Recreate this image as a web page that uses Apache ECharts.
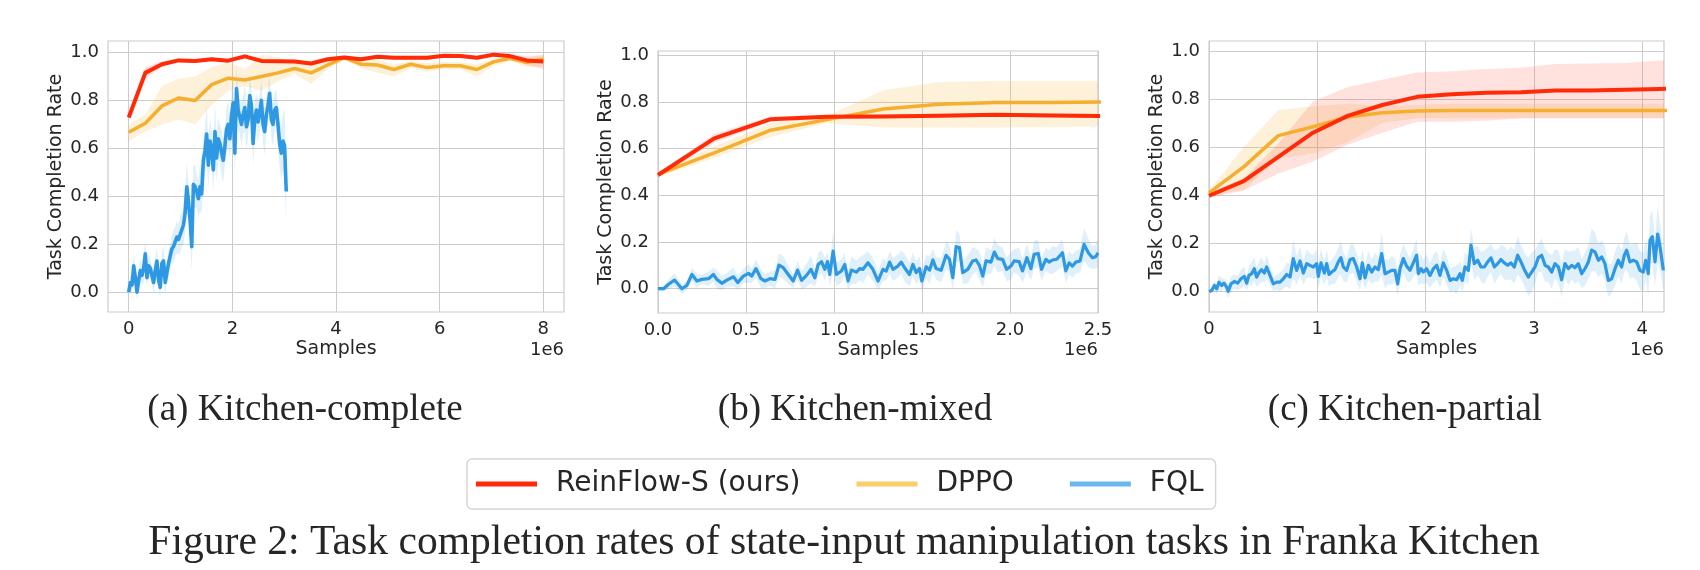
<!DOCTYPE html>
<html><head><meta charset="utf-8">
<script src="https://cdn.jsdelivr.net/npm/echarts@6/dist/echarts.min.js"></script>
<style>html,body{margin:0;padding:0;background:#fff}#c{width:1700px;height:570px}</style>
</head><body><div id="c"></div>
<script>
// ---------- Kitchen-complete ----------
const xA = [0,0.32,0.64,0.96,1.28,1.6,1.92,2.24,2.56,2.88,3.2,3.52,3.84,4.16,4.48,4.8,5.12,5.44,5.76,6.08,6.4,6.72,7.04,7.36,7.68,8.0];
const reinA = [0.729,0.915,0.951,0.967,0.965,0.972,0.966,0.984,0.965,0.964,0.962,0.954,0.972,0.979,0.972,0.982,0.978,0.978,0.978,0.986,0.985,0.978,0.991,0.985,0.967,0.962];
const reinA_lo = [0.72,0.89,0.94,0.96,0.958,0.965,0.96,0.977,0.958,0.957,0.955,0.947,0.965,0.972,0.965,0.975,0.971,0.971,0.971,0.979,0.978,0.971,0.984,0.978,0.95,0.93];
const reinA_hi = [0.74,0.94,0.962,0.975,0.972,0.979,0.973,0.991,0.972,0.971,0.969,0.961,0.979,0.986,0.979,0.989,0.985,0.985,0.985,0.993,0.992,0.985,0.998,0.992,0.984,0.99];
const dppoA = [0.667,0.705,0.777,0.81,0.80,0.866,0.893,0.885,0.90,0.915,0.933,0.915,0.948,0.979,0.951,0.948,0.929,0.951,0.937,0.945,0.945,0.929,0.961,0.976,0.958,0.972];
const dppoA_lo = [0.63,0.67,0.70,0.72,0.70,0.78,0.84,0.86,0.84,0.88,0.91,0.87,0.93,0.97,0.935,0.915,0.90,0.935,0.92,0.93,0.93,0.90,0.945,0.965,0.94,0.94];
const dppoA_hi = [0.70,0.74,0.86,0.89,0.90,0.94,0.96,0.93,0.99,0.98,0.955,0.95,0.965,0.99,0.965,0.97,0.95,0.965,0.955,0.96,0.96,0.95,0.975,0.985,0.975,0.99];
const fqlA_step = 0.032;
const fqlA = [
0.00,0.04,0.03,0.11,0.06,0.00,0.05,0.09,0.07,0.10,
0.16,0.06,0.11,0.10,0.07,0.04,0.09,0.13,0.05,0.02,
0.12,0.13,0.04,0.08,0.12,0.15,0.18,0.19,0.21,0.23,
0.22,0.24,0.26,0.28,0.33,0.44,0.38,0.30,0.19,0.45,
0.44,0.42,0.39,0.44,0.41,0.55,0.59,0.66,0.53,0.63,
0.60,0.51,0.67,0.56,0.64,0.62,0.58,0.55,0.61,0.68,
0.70,0.64,0.74,0.79,0.58,0.85,0.76,0.73,0.70,0.74,
0.77,0.69,0.72,0.82,0.78,0.62,0.72,0.76,0.71,0.75,
0.80,0.70,0.67,0.74,0.78,0.83,0.72,0.70,0.76,0.77,
0.70,0.62,0.58,0.63,0.61,0.42];
const fqlA_sd = [
0.01,0.03,0.04,0.05,0.04,0.03,0.04,0.05,0.04,0.06,
0.06,0.04,0.05,0.04,0.04,0.05,0.05,0.06,0.04,0.04,
0.05,0.06,0.05,0.04,0.06,0.05,0.06,0.07,0.06,0.07,
0.06,0.08,0.07,0.08,0.09,0.10,0.08,0.09,0.10,0.08,
0.09,0.07,0.08,0.10,0.08,0.09,0.10,0.12,0.09,0.10,
0.08,0.09,0.12,0.10,0.09,0.08,0.10,0.09,0.08,0.10,
0.09,0.08,0.10,0.09,0.10,0.09,0.08,0.07,0.09,0.08,
0.10,0.09,0.08,0.07,0.08,0.09,0.08,0.07,0.09,0.08,
0.09,0.08,0.10,0.07,0.08,0.07,0.08,0.09,0.08,0.07,
0.09,0.10,0.11,0.12,0.15,0.13];

// ---------- Kitchen-mixed ----------
const xB = [0,0.32,0.64,0.96,1.28,1.6,1.92,2.24,2.56];
const reinB = [0.487,0.644,0.726,0.736,0.738,0.741,0.745,0.742,0.739];
const reinB_lo = [0.48,0.625,0.715,0.728,0.73,0.733,0.737,0.734,0.731];
const reinB_hi = [0.494,0.663,0.737,0.744,0.746,0.749,0.753,0.75,0.747];
const dppoB = [0.49,0.582,0.679,0.724,0.77,0.79,0.797,0.797,0.80];
const dppoB_lo = [0.48,0.56,0.65,0.71,0.69,0.69,0.69,0.693,0.695];
const dppoB_hi = [0.50,0.61,0.71,0.74,0.85,0.885,0.89,0.89,0.89];
const fqlB_x = [
0.000,0.032,0.060,0.094,0.136,0.164,0.193,0.221,0.249,0.287,
0.315,0.334,0.363,0.391,0.429,0.453,0.485,0.514,0.532,0.557,
0.585,0.608,0.636,0.665,0.687,0.712,0.740,0.768,0.793,0.816,
0.844,0.869,0.891,0.910,0.929,0.948,0.963,0.976,0.995,1.014,
1.042,1.061,1.080,1.099,1.127,1.146,1.165,1.193,1.221,1.250,
1.278,1.297,1.316,1.335,1.363,1.382,1.401,1.429,1.448,1.467,
1.486,1.499,1.524,1.543,1.562,1.580,1.609,1.637,1.656,1.675,
1.694,1.713,1.731,1.760,1.788,1.807,1.826,1.845,1.864,1.892,
1.911,1.930,1.958,1.981,2.005,2.024,2.052,2.071,2.096,2.119,
2.137,2.160,2.179,2.204,2.222,2.241,2.266,2.298,2.317,2.336,
2.355,2.374,2.398,2.421,2.445,2.468,2.487,2.500];
const fqlB = [
0.000,0.000,0.019,0.037,0.000,0.014,0.061,0.033,0.040,0.043,
0.061,0.040,0.023,0.037,0.051,0.026,0.054,0.066,0.054,0.086,
0.043,0.033,0.043,0.040,0.101,0.090,0.061,0.033,0.080,0.036,
0.057,0.083,0.047,0.104,0.116,0.083,0.116,0.061,0.161,0.061,
0.076,0.104,0.033,0.080,0.071,0.086,0.083,0.111,0.083,0.033,
0.083,0.076,0.114,0.083,0.097,0.114,0.090,0.061,0.104,0.069,
0.087,0.033,0.094,0.080,0.123,0.087,0.079,0.143,0.126,0.047,
0.180,0.176,0.069,0.083,0.119,0.123,0.100,0.054,0.119,0.114,
0.157,0.129,0.126,0.083,0.097,0.119,0.116,0.076,0.133,0.086,
0.147,0.151,0.083,0.126,0.114,0.123,0.126,0.154,0.076,0.111,
0.097,0.114,0.119,0.190,0.154,0.133,0.137,0.154];
const fqlB_sd = [
0.005,0.01,0.02,0.03,0.02,0.02,0.03,0.03,0.02,0.03,
0.03,0.04,0.03,0.03,0.04,0.03,0.03,0.04,0.03,0.04,
0.04,0.03,0.03,0.04,0.05,0.05,0.04,0.03,0.04,0.04,
0.05,0.06,0.04,0.05,0.05,0.05,0.04,0.05,0.09,0.05,
0.05,0.05,0.04,0.06,0.05,0.05,0.06,0.05,0.05,0.04,
0.05,0.04,0.05,0.05,0.05,0.05,0.06,0.05,0.05,0.05,
0.05,0.05,0.05,0.06,0.05,0.05,0.05,0.06,0.06,0.05,
0.07,0.06,0.05,0.06,0.06,0.05,0.06,0.05,0.06,0.05,
0.06,0.06,0.05,0.05,0.06,0.05,0.06,0.05,0.06,0.05,
0.06,0.06,0.05,0.05,0.05,0.06,0.05,0.06,0.05,0.05,
0.05,0.05,0.05,0.07,0.06,0.05,0.05,0.06];

// ---------- Kitchen-partial ----------
const xC = [0,0.32,0.64,0.96,1.28,1.6,1.92,2.24,2.56,2.88,3.2,3.52,3.84,4.16,4.48];
const reinC = [0.398,0.459,0.56,0.66,0.73,0.775,0.809,0.82,0.826,0.828,0.835,0.835,0.838,0.842,0.844];
const reinC_lo = [0.39,0.42,0.49,0.54,0.61,0.66,0.705,0.705,0.71,0.72,0.72,0.72,0.72,0.72,0.72];
const reinC_hi = [0.41,0.47,0.615,0.79,0.85,0.88,0.91,0.915,0.925,0.93,0.945,0.948,0.95,0.96,0.96];
const dppoC = [0.41,0.518,0.648,0.685,0.725,0.743,0.75,0.752,0.752,0.752,0.752,0.752,0.752,0.752,0.752];
const dppoC_lo = [0.40,0.422,0.553,0.574,0.62,0.70,0.72,0.72,0.72,0.72,0.72,0.72,0.72,0.72,0.72];
const dppoC_hi = [0.42,0.60,0.754,0.77,0.78,0.77,0.775,0.78,0.78,0.78,0.78,0.78,0.78,0.78,0.78];
const fqlC_x = [
0.000,0.025,0.049,0.071,0.092,0.117,0.138,0.163,0.178,0.203,
0.234,0.265,0.295,0.326,0.348,0.369,0.394,0.418,0.440,0.465,
0.486,0.511,0.532,0.563,0.594,0.625,0.655,0.686,0.717,0.748,
0.778,0.809,0.840,0.871,0.902,0.932,0.963,0.994,1.009,1.034,
1.065,1.086,1.108,1.132,1.163,1.194,1.218,1.240,1.271,1.302,
1.332,1.363,1.394,1.415,1.440,1.471,1.502,1.532,1.563,1.594,
1.625,1.655,1.686,1.717,1.742,1.763,1.794,1.825,1.855,1.886,
1.917,1.932,1.957,1.978,2.009,2.040,2.071,2.102,2.132,2.163,
2.194,2.225,2.255,2.286,2.317,2.338,2.363,2.394,2.418,2.449,
2.480,2.511,2.542,2.572,2.603,2.634,2.665,2.695,2.726,2.757,
2.788,2.818,2.849,2.880,2.911,2.948,2.978,3.009,3.040,3.071,
3.102,3.132,3.163,3.194,3.225,3.255,3.286,3.317,3.348,3.378,
3.409,3.440,3.471,3.502,3.532,3.563,3.594,3.625,3.655,3.686,
3.717,3.748,3.778,3.809,3.834,3.855,3.886,3.917,3.948,3.978,
4.009,4.031,4.055,4.071,4.092,4.117,4.142,4.163,4.194];
const fqlC = [
0.000,0.004,0.025,0.011,0.039,0.025,0.035,0.018,0.001,0.032,
0.042,0.035,0.053,0.063,0.035,0.067,0.074,0.095,0.060,0.081,
0.091,0.077,0.102,0.067,0.032,0.039,0.039,0.053,0.071,0.060,
0.137,0.088,0.127,0.077,0.116,0.109,0.102,0.116,0.063,0.119,
0.077,0.116,0.071,0.081,0.091,0.123,0.141,0.102,0.088,0.133,
0.137,0.102,0.053,0.119,0.057,0.109,0.081,0.102,0.091,0.158,
0.074,0.081,0.088,0.088,0.032,0.095,0.137,0.105,0.088,0.119,
0.151,0.074,0.095,0.081,0.095,0.067,0.095,0.109,0.067,0.119,
0.088,0.046,0.053,0.049,0.074,0.046,0.102,0.088,0.193,0.116,
0.130,0.102,0.102,0.123,0.140,0.102,0.116,0.133,0.119,0.109,
0.119,0.102,0.151,0.123,0.091,0.060,0.081,0.102,0.141,0.151,
0.109,0.102,0.081,0.116,0.102,0.049,0.116,0.095,0.109,0.099,
0.116,0.074,0.095,0.123,0.172,0.165,0.130,0.144,0.116,0.046,
0.053,0.095,0.130,0.102,0.151,0.172,0.123,0.130,0.123,0.088,
0.081,0.130,0.074,0.214,0.228,0.123,0.239,0.186,0.088];
const fqlC_sd = [
0.005,0.01,0.02,0.02,0.03,0.03,0.02,0.03,0.03,0.03,
0.03,0.03,0.04,0.04,0.03,0.04,0.05,0.05,0.04,0.05,
0.05,0.04,0.05,0.04,0.03,0.03,0.04,0.04,0.05,0.05,
0.08,0.06,0.06,0.05,0.06,0.05,0.05,0.06,0.05,0.06,
0.05,0.06,0.05,0.05,0.06,0.06,0.07,0.06,0.05,0.06,
0.06,0.06,0.05,0.06,0.05,0.06,0.05,0.06,0.05,0.09,
0.06,0.05,0.06,0.05,0.05,0.06,0.06,0.06,0.05,0.06,
0.07,0.05,0.06,0.05,0.06,0.05,0.06,0.06,0.05,0.06,
0.06,0.05,0.05,0.06,0.05,0.05,0.06,0.06,0.07,0.07,
0.06,0.06,0.07,0.06,0.06,0.07,0.06,0.06,0.07,0.06,
0.07,0.07,0.08,0.07,0.07,0.08,0.08,0.07,0.06,0.07,
0.07,0.06,0.07,0.06,0.07,0.07,0.06,0.07,0.06,0.07,
0.07,0.06,0.07,0.07,0.09,0.08,0.07,0.07,0.07,0.07,
0.06,0.07,0.07,0.07,0.07,0.08,0.07,0.07,0.08,0.08,
0.08,0.08,0.09,0.10,0.11,0.10,0.12,0.10,0.08];

// ---------- axes / labels ----------
const yTicks = [0, 0.2, 0.4, 0.6, 0.8, 1.0];
const xTicksA = [0, 2, 4, 6, 8];
const xTicksB = [0, 0.5, 1.0, 1.5, 2.0, 2.5];
const xTicksC = [0, 1, 2, 3, 4];
const seriesNames = ['ReinFlow-S (ours)', 'DPPO', 'FQL'];
const subCaptions = ['(a) Kitchen-complete', '(b) Kitchen-mixed', '(c) Kitchen-partial'];
const figCaption = 'Figure 2: Task completion rates of state-input manipulation tasks in Franka Kitchen';
const xName = 'Samples', yName = 'Task Completion Rate', offsetText = '1e6';

const C_RED = '#ff2a08', C_ORG = '#f5ae2d', C_BLU = '#2f98e3';
const B_RED = 'rgba(255,70,50,0.16)', B_ORG = 'rgba(245,175,45,0.18)', B_BLU = 'rgba(60,160,230,0.16)';
const TXT = '#262626', GRID = '#cccccc';
const SANS = 'DejaVu Sans', SERIF = 'Liberation Serif';

const zip = (xs, ys) => xs.map((x, i) => [x, ys[i]]);
const stepX = (n, s) => Array.from({length: n}, (_, i) => +(i * s).toFixed(4));
const xFqlA = stepX(fqlA.length, fqlA_step);

function band(g, xs, lo, hi, fill) {
  const data = xs.map((x, i) => [x, lo[i], hi[i]]);
  return {
    type: 'custom', xAxisIndex: g, yAxisIndex: g, silent: true, clip: true, z: 1,
    data: data, encode: {x: 0, y: [1, 2]},
    renderItem: function (params, api) {
      if (params.dataIndex !== 0) return null;
      const top = data.map(d => api.coord([d[0], d[2]]));
      const bot = data.map(d => api.coord([d[0], d[1]])).reverse();
      return {type: 'polygon', shape: {points: top.concat(bot)}, style: {fill: fill}};
    }
  };
}
function line(g, name, xs, ys, color, width, z) {
  return {
    type: 'line', name: name, xAxisIndex: g, yAxisIndex: g, data: zip(xs, ys),
    showSymbol: false, symbol: 'none', clip: true, silent: true, z: z,
    lineStyle: {color: color, width: width, join: 'round'}, itemStyle: {color: color}
  };
}
const sub = (a, b) => a.map((v, i) => +(v - b[i]).toFixed(4));
const add = (a, b) => a.map((v, i) => +(v + b[i]).toFixed(4));

const grids = [
  {left: 108, top: 41, width: 456, height: 271},
  {left: 658, top: 51, width: 440, height: 262},
  {left: 1209, top: 41, width: 455, height: 271}
].map(g => Object.assign({show: true, borderColor: GRID, borderWidth: 1.2, backgroundColor: '#fff', outerBoundsMode: 'none', containLabel: false}, g));

function xAx(g, min, max, ticks, dec) {
  return {
    gridIndex: g, type: 'value', min: min, max: max,
    axisLine: {show: false}, axisTick: {show: false, customValues: ticks},
    axisLabel: {customValues: ticks, formatter: v => v.toFixed(dec), margin: 8, fontSize: 18, color: TXT, fontFamily: SANS},
    splitLine: {show: true, lineStyle: {color: GRID, width: 1}},
    name: xName, nameLocation: 'middle', nameGap: 28,
    nameTextStyle: {fontSize: 19, color: TXT, fontFamily: SANS}
  };
}
function yAx(g, min, max) {
  return {
    gridIndex: g, type: 'value', min: min, max: max,
    axisLine: {show: false}, axisTick: {show: false, customValues: yTicks},
    axisLabel: {customValues: yTicks, formatter: v => v.toFixed(1), margin: 9, fontSize: 18, color: TXT, fontFamily: SANS},
    splitLine: {show: true, lineStyle: {color: GRID, width: 1}},
    name: yName, nameLocation: 'middle', nameGap: 42, nameRotate: 90,
    nameTextStyle: {fontSize: 19, color: TXT, fontFamily: SANS}
  };
}

const series = [
  band(0, xA, dppoA_lo, dppoA_hi, B_ORG),
  band(0, xA, reinA_lo, reinA_hi, B_RED),
  band(0, xFqlA, sub(fqlA, fqlA_sd), add(fqlA, fqlA_sd), B_BLU),
  line(0, seriesNames[1], xA, dppoA, C_ORG, 3.5, 3),
  line(0, seriesNames[2], xFqlA, fqlA, C_BLU, 3.6, 4),
  line(0, seriesNames[0], xA, reinA, C_RED, 4, 5),

  band(1, xB, dppoB_lo, dppoB_hi, B_ORG),
  band(1, xB, reinB_lo, reinB_hi, B_RED),
  band(1, fqlB_x, sub(fqlB, fqlB_sd), add(fqlB, fqlB_sd), B_BLU),
  line(1, seriesNames[1], xB, dppoB, C_ORG, 3.5, 3),
  line(1, seriesNames[2], fqlB_x, fqlB, C_BLU, 3.2, 4),
  line(1, seriesNames[0], xB, reinB, C_RED, 4, 5),

  band(2, xC, dppoC_lo, dppoC_hi, B_ORG),
  band(2, xC, reinC_lo, reinC_hi, B_RED),
  band(2, fqlC_x, sub(fqlC, fqlC_sd), add(fqlC, fqlC_sd), B_BLU),
  line(2, seriesNames[1], xC, dppoC, C_ORG, 3.5, 3),
  line(2, seriesNames[2], fqlC_x, fqlC, C_BLU, 3.2, 4),
  line(2, seriesNames[0], xC, reinC, C_RED, 4, 5)
];

function txt(str, x, y, size, family, align) {
  return {type: 'text', x: x, y: y, silent: true, z: 10,
    style: {text: str, fill: TXT, fontSize: size, fontFamily: family, align: align, verticalAlign: 'middle'}};
}
const FS_SUB = 37, FS_CAP = 41.6;
const graphics = [
  txt(offsetText, 564, 350, 18, SANS, 'right'),
  txt(offsetText, 1098, 350, 18, SANS, 'right'),
  txt(offsetText, 1664, 350, 18, SANS, 'right'),
  txt(subCaptions[0], 305, 410, FS_SUB, SERIF, 'center'),
  txt(subCaptions[1], 855, 410, FS_SUB, SERIF, 'center'),
  txt(subCaptions[2], 1405, 410, FS_SUB, SERIF, 'center'),
  txt(figCaption, 844, 543, FS_CAP, SERIF, 'center')
];

const chart = echarts.init(document.getElementById('c'), null, {renderer: 'canvas'});
chart.setOption({
  animation: false,
  backgroundColor: '#ffffff',
  grid: grids,
  xAxis: [xAx(0, -0.4, 8.4, xTicksA, 0), xAx(1, 0, 2.5, xTicksB, 1), xAx(2, 0, 4.2, xTicksC, 0)],
  yAxis: [yAx(0, -0.083, 1.048), yAx(1, -0.104, 1.018), yAx(2, -0.085, 1.041)],
  legend: {
    left: 467, top: 459, orient: 'horizontal', selectedMode: false,
    padding: [11, 12, 11, 9], itemGap: 56, itemWidth: 61, itemHeight: 5, icon: 'rect',
    borderColor: '#d6d6d6', borderWidth: 1.5, borderRadius: 5, backgroundColor: '#fff',
    textStyle: {fontFamily: SANS, fontSize: 28, color: TXT, padding: [0, 0, 0, 14]},
    data: [
      {name: seriesNames[0], itemStyle: {color: '#ff2a0a'}},
      {name: seriesNames[1], itemStyle: {color: '#f9cf6c'}},
      {name: seriesNames[2], itemStyle: {color: '#6ab8ee'}}
    ]
  },
  graphic: graphics,
  series: series
});
</script></body></html>
